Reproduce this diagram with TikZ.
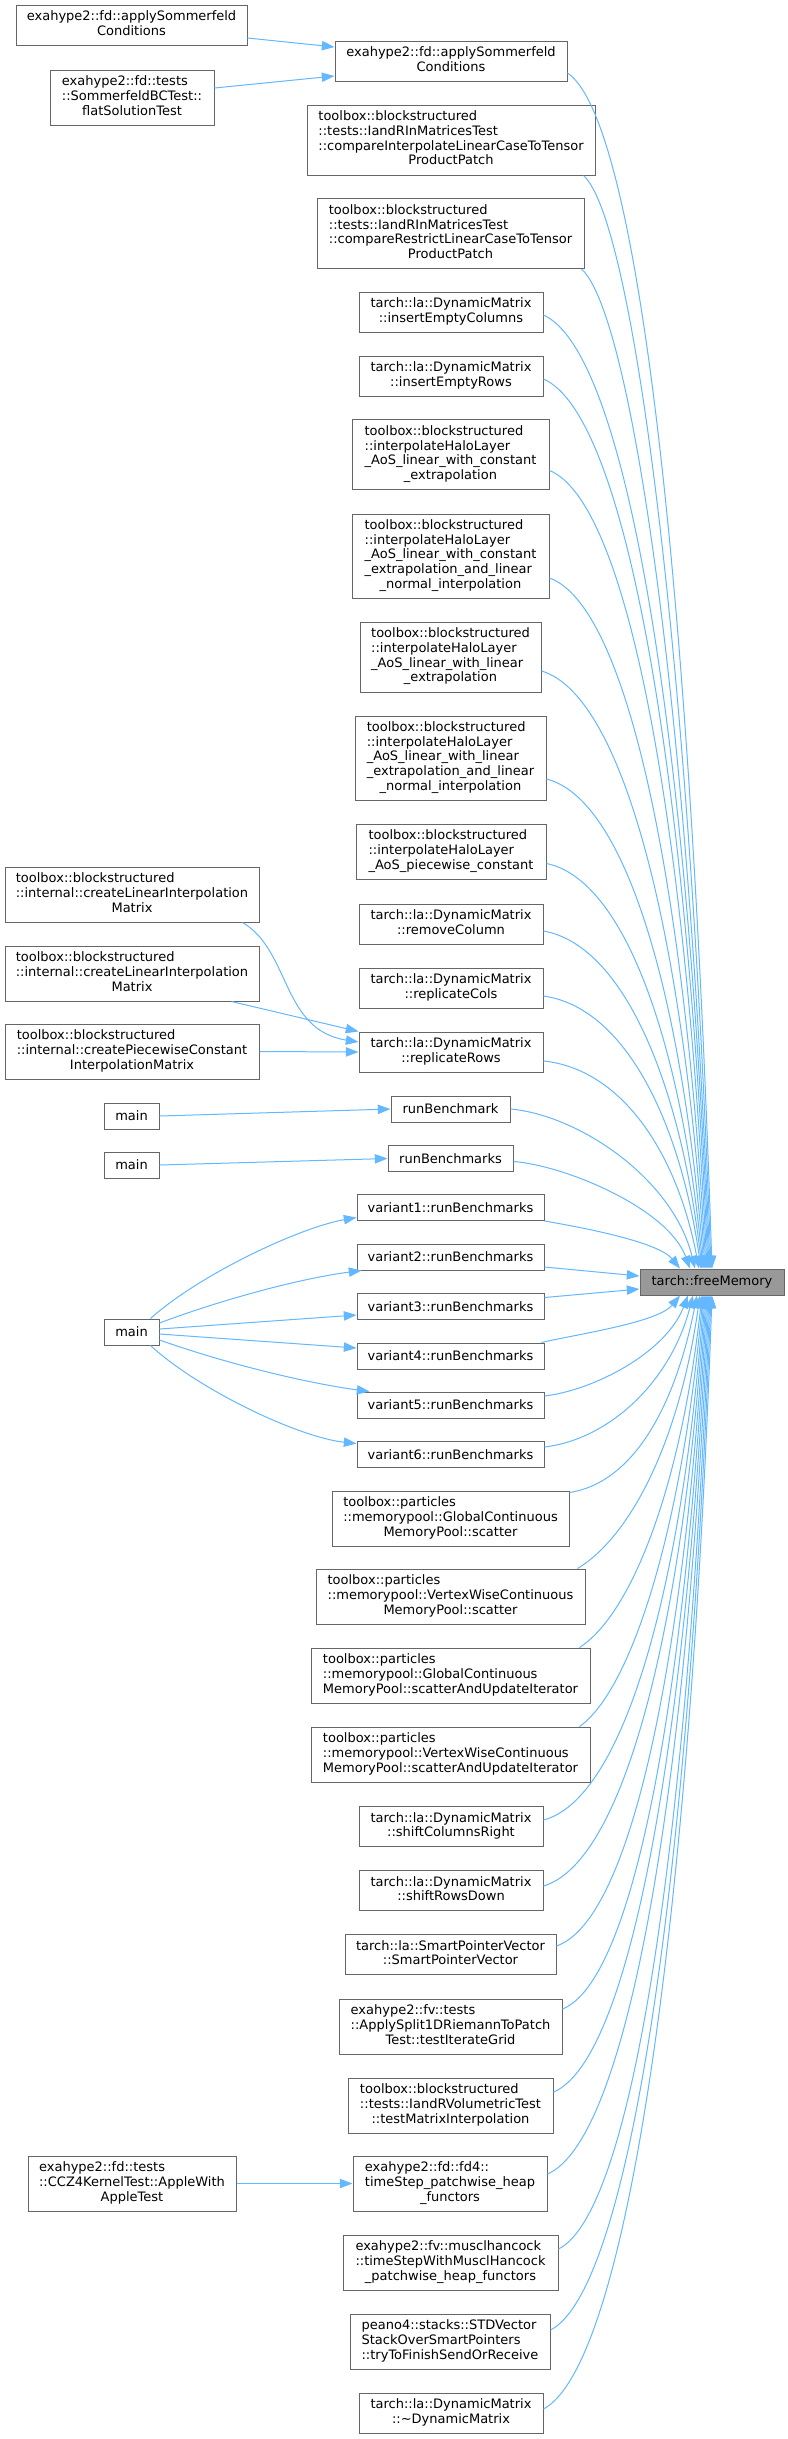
\documentclass[tikz,border=0pt]{standalone}
\usepackage{fontspec}
\setmainfont{DejaVu Sans}
\usetikzlibrary{arrows.meta,calc}
\definecolor{edgeblue}{HTML}{63B8FF}
\definecolor{boxgray}{HTML}{666666}
\definecolor{hlfill}{HTML}{999999}
\newcommand{\ml}[2]{\begin{tabular}{@{}l@{}}#1\\\multicolumn{1}{@{}c@{}}{#2}\end{tabular}}
\begin{document}
\begin{tikzpicture}[x=0.75pt,y=-0.75pt,
  font=\fontsize{9.75pt}{11pt}\selectfont,
  box/.style={draw=boxgray, fill=white, line width=0.75pt, inner sep=0pt, text=black},
  wh/.style 2 args={minimum width={#1*0.75pt}, minimum height={#2*0.75pt}},
  cedge/.style={draw=edgeblue, line width=0.75pt, -{Triangle[length=9.5pt,width=7pt]}}]
\fill[white] (0,0) rectangle (788,2439);
\useasboundingbox (0,0) rectangle (788,2439);

% ---- nodes ----
\node[box,wh={231}{40}] (A1) at (131.5,25) {\ml{exahype2::fd::applySommerfeld}{Conditions}};
\node[box,wh={164}{55}] (A2) at (132,97.5) {\ml{exahype2::fd::tests\\::SommerfeldBCTest::}{flatSolutionTest}};
\node[box,wh={232}{40}] (S) at (451,61) {\ml{exahype2::fd::applySommerfeld}{Conditions}};
\node[box,wh={288}{70}] (B1) at (451,140) {\ml{toolbox::blockstructured\\::tests::IandRInMatricesTest\\::compareInterpolateLinearCaseToTensor}{ProductPatch}};
\node[box,wh={267}{70}] (B2) at (450.5,233.5) {\ml{toolbox::blockstructured\\::tests::IandRInMatricesTest\\::compareRestrictLinearCaseToTensor}{ProductPatch}};
\node[box,wh={184}{40}] (C1) at (451,312) {\ml{tarch::la::DynamicMatrix}{::insertEmptyColumns}};
\node[box,wh={184}{40}] (C2) at (451,376) {\ml{tarch::la::DynamicMatrix}{::insertEmptyRows}};
\node[box,wh={197}{70}] (H1) at (450.5,454.5) {\ml{toolbox::blockstructured\\::interpolateHaloLayer\\\_AoS\_linear\_with\_constant}{\_extrapolation}};
\node[box,wh={197}{84}] (H2) at (450.5,556) {\ml{toolbox::blockstructured\\::interpolateHaloLayer\\\_AoS\_linear\_with\_constant\\\_extrapolation\_and\_linear}{\_normal\_interpolation}};
\node[box,wh={181}{70}] (H3) at (450.5,657) {\ml{toolbox::blockstructured\\::interpolateHaloLayer\\\_AoS\_linear\_with\_linear}{\_extrapolation}};
\node[box,wh={191}{84}] (H4) at (450.5,758) {\ml{toolbox::blockstructured\\::interpolateHaloLayer\\\_AoS\_linear\_with\_linear\\\_extrapolation\_and\_linear}{\_normal\_interpolation}};
\node[box,wh={190}{55}] (H5) at (451,851.5) {\ml{toolbox::blockstructured\\::interpolateHaloLayer}{\_AoS\_piecewise\_constant}};
\node[box,wh={254}{55}] (L1) at (132,894.5) {\ml{toolbox::blockstructured\\::internal::createLinearInterpolation}{Matrix}};
\node[box,wh={254}{55}] (L2) at (132,973.5) {\ml{toolbox::blockstructured\\::internal::createLinearInterpolation}{Matrix}};
\node[box,wh={254}{55}] (L3) at (132,1051.5) {\ml{toolbox::blockstructured\\::internal::createPiecewiseConstant}{InterpolationMatrix}};
\node[box,wh={184}{40}] (D1) at (451,924) {\ml{tarch::la::DynamicMatrix}{::removeColumn}};
\node[box,wh={184}{40}] (D2) at (451,988) {\ml{tarch::la::DynamicMatrix}{::replicateCols}};
\node[box,wh={184}{40}] (D3) at (451,1052) {\ml{tarch::la::DynamicMatrix}{::replicateRows}};
\node[box,wh={55}{26}] (M1) at (131.5,1116) {main};
\node[box,wh={119}{26}] (R1) at (450.5,1109) {runBenchmark};
\node[box,wh={55}{26}] (M2) at (131.5,1165) {main};
\node[box,wh={125}{26}] (R2) at (450.5,1158.5) {runBenchmarks};
\node[box,wh={187}{26}] (V1) at (450.5,1207.5) {variant1::runBenchmarks};
\node[box,wh={187}{26}] (V2) at (450.5,1257) {variant2::runBenchmarks};
\node[box,wh={187}{26}] (V3) at (450.5,1306.5) {variant3::runBenchmarks};
\node[box,wh={187}{26}] (V4) at (450.5,1356) {variant4::runBenchmarks};
\node[box,wh={187}{26}] (V5) at (450.5,1405) {variant5::runBenchmarks};
\node[box,wh={187}{26}] (V6) at (450.5,1454.5) {variant6::runBenchmarks};
\node[box,wh={144}{26},fill=hlfill] (F) at (712,1282) {tarch::freeMemory};
\node[box,wh={55}{26}] (M3) at (131.5,1332) {main};
\node[box,wh={237}{55}] (P1) at (450.5,1518.5) {\ml{toolbox::particles\\::memorypool::GlobalContinuous}{MemoryPool::scatter}};
\node[box,wh={269}{55}] (P2) at (450.5,1596.5) {\ml{toolbox::particles\\::memorypool::VertexWiseContinuous}{MemoryPool::scatter}};
\node[box,wh={279}{55}] (P3) at (450.5,1675.5) {\ml{toolbox::particles\\::memorypool::GlobalContinuous}{MemoryPool::scatterAndUpdateIterator}};
\node[box,wh={279}{55}] (P4) at (450.5,1754.5) {\ml{toolbox::particles\\::memorypool::VertexWiseContinuous}{MemoryPool::scatterAndUpdateIterator}};
\node[box,wh={184}{40}] (E1) at (451,1826.5) {\ml{tarch::la::DynamicMatrix}{::shiftColumnsRight}};
\node[box,wh={184}{40}] (E2) at (451,1890.5) {\ml{tarch::la::DynamicMatrix}{::shiftRowsDown}};
\node[box,wh={211}{40}] (E3) at (450.5,1954.5) {\ml{tarch::la::SmartPointerVector}{::SmartPointerVector}};
\node[box,wh={223}{55}] (E4) at (450.5,2026.5) {\ml{exahype2::fv::tests\\::ApplySplit1DRiemannToPatch}{Test::testIterateGrid}};
\node[box,wh={205}{55}] (E5) at (450.5,2105.5) {\ml{toolbox::blockstructured\\::tests::IandRVolumetricTest}{::testMatrixInterpolation}};
\node[box,wh={194}{55}] (E6) at (450,2183.5) {\ml{exahype2::fd::fd4::\\timeStep\_patchwise\_heap}{\_functors}};
\node[box,wh={208}{55}] (K) at (132,2183.5) {\ml{exahype2::fd::tests\\::CCZ4KernelTest::AppleWith}{AppleTest}};
\node[box,wh={215}{55}] (E7) at (450.5,2262.5) {\ml{exahype2::fv::musclhancock\\::timeStepWithMusclHancock}{\_patchwise\_heap\_functors}};
\node[box,wh={200}{55}] (E8) at (450,2341.5) {\ml{peano4::stacks::STDVector\\StackOverSmartPointers}{::tryToFinishSendOrReceive}};
\node[box,wh={184}{40}] (E9) at (451,2413) {\ml{tarch::la::DynamicMatrix}{::\textasciitilde DynamicMatrix}};

% ---- edges into freeMemory from above ----
\draw[cedge] ($(S.east)+(0,12)$) .. controls +(72,48) and +(-22,-670) .. ($(F.north)+(0,0)$);
\draw[cedge] ($(B1.south east)+(-12,0)$) .. controls +(50,45) and +(-22,-613) .. ($(F.north)+(-1,0)$);
\draw[cedge] ($(B2.south east)+(-3,0)$) .. controls +(50,45) and +(-22,-561) .. ($(F.north)+(-2,0)$);
\draw[cedge] ($(C1.east)+(0,3)$) .. controls +(84,38) and +(-22,-534) .. ($(F.north)+(-3,0)$);
\draw[cedge] ($(C2.east)+(0,3)$) .. controls +(83,36) and +(-22,-498) .. ($(F.north)+(-4,0)$);
\draw[cedge] ($(H1.east)+(0,16)$) .. controls +(79,32) and +(-22,-447) .. ($(F.north)+(-5,0)$);
\draw[cedge] ($(H2.east)+(0,22)$) .. controls +(78,28) and +(-22,-387) .. ($(F.north)+(-6,0)$);
\draw[cedge] ($(H3.east)+(0,14)$) .. controls +(82,24) and +(-22,-335) .. ($(F.north)+(-7,0)$);
\draw[cedge] ($(H4.east)+(0,21)$) .. controls +(79,20) and +(-22,-274) .. ($(F.north)+(-8,0)$);
\draw[cedge] ($(H5.east)+(0,12)$) .. controls +(78,16) and +(-22,-227) .. ($(F.north)+(-9,0)$);
\draw[cedge] ($(D1.east)+(0,7)$) .. controls +(79,14) and +(-22,-189) .. ($(F.north)+(-10,0)$);
\draw[cedge] ($(D2.east)+(0,8)$) .. controls +(79,11) and +(-22,-153) .. ($(F.north)+(-11,0)$);
\draw[cedge] ($(D3.east)+(0,9)$) .. controls +(78,8) and +(-22,-116) .. ($(F.north)+(-13,0)$);
\draw[cedge] (R1.east) .. controls +(68,6) and +(-22,-90) .. ($(F.north)+(-17,0)$);
\draw[cedge] ($(R2.east)+(0,3)$) .. controls +(52,4) and +(-22,-60) .. ($(F.north)+(-22,0)$);
\draw[cedge] (V1.south east) .. controls +(35,6) and +(-22,-27) .. ($(F.north)+(-32,0)$);
% ---- edges into freeMemory from the left ----
\draw[cedge] ($(V2.east)+(0,10)$) -- ($(F.west)+(0,-6)$);
\draw[cedge] ($(V3.east)+(0,-9)$) -- ($(F.west)+(0,7)$);
% ---- edges into freeMemory from below ----
\draw[cedge] ($(V4.north east)+(-3,0)$) .. controls +(34,-8) and +(-22,27) .. ($(F.south)+(-32,0)$);
\draw[cedge] ($(V5.east)+(0,-9)$) .. controls +(50,-6) and +(-22,57) .. ($(F.south)+(-24,0)$);
\draw[cedge] ($(V6.east)+(0,-7.5)$) .. controls +(66,-8) and +(-22,85) .. ($(F.south)+(-19,0)$);
\draw[cedge] ($(P1.north east)+(0,2)$) .. controls +(64,-10) and +(-22,111) .. ($(F.south)+(-15,0)$);
\draw[cedge] ($(P2.north east)+(-8,0)$) .. controls +(50,-30) and +(-22,153) .. ($(F.south)+(-12,0)$);
\draw[cedge] ($(P3.north east)+(-11,0)$) .. controls +(50,-32) and +(-22,198) .. ($(F.south)+(-10,0)$);
\draw[cedge] ($(P4.north east)+(-11,0)$) .. controls +(50,-35) and +(-22,242) .. ($(F.south)+(-9,0)$);
\draw[cedge] ($(E1.east)+(0,-6.5)$) .. controls +(80,-21) and +(-22,294) .. ($(F.south)+(-8,0)$);
\draw[cedge] ($(E2.east)+(0,-4.5)$) .. controls +(81,-24) and +(-22,331) .. ($(F.south)+(-7,0)$);
\draw[cedge] ($(E3.east)+(0,-8.5)$) .. controls +(75,-26) and +(-22,365) .. ($(F.south)+(-6,0)$);
\draw[cedge] ($(E4.east)+(0,-17.5)$) .. controls +(72,-29) and +(-22,400) .. ($(F.south)+(-5,0)$);
\draw[cedge] ($(E5.east)+(0,-13.5)$) .. controls +(77,-32) and +(-22,446) .. ($(F.south)+(-4,0)$);
\draw[cedge] ($(E6.east)+(0,-9.5)$) .. controls +(81,-35) and +(-22,492) .. ($(F.south)+(-3,0)$);
\draw[cedge] ($(E7.east)+(0,-13.5)$) .. controls +(76,-38) and +(-22,534) .. ($(F.south)+(-2,0)$);
\draw[cedge] ($(E8.east)+(0,-11.5)$) .. controls +(80,-41) and +(-22,580) .. ($(F.south)+(-1,0)$);
\draw[cedge] ($(E9.east)+(0,-4)$) .. controls +(84,-45) and +(-22,624) .. ($(F.south)+(0,0)$);

% ---- other edges ----
\draw[cedge] ($(A1.east)+(0,13)$) -- ($(S.west)+(0,-14)$);
\draw[cedge] ($(A2.east)+(0,-9.5)$) -- ($(S.west)+(0,15)$);
\draw[cedge] ($(L1.south east)+(-17,0)$) .. controls +(48,28) and +(-77,-12) .. ($(D3.west)+(0,-10)$);
\draw[cedge] ($(L2.south east)+(-28,0)$) -- (D3.north west);
\draw[cedge] (L3.east) -- (D3.west);
\draw[cedge] (M1.east) -- (R1.west);
\draw[cedge] (M2.east) -- (R2.west);
\draw[cedge] ($(M3.north east)+(-9,0)$) .. controls +(49,-44) and +(-57,10) .. ($(V1.west)+(0,10)$);
\draw[cedge] ($(M3.east)+(0,-9)$) .. controls +(61,-23) and +(-62,8) .. ($(V2.south west)+(5,0)$);
\draw[cedge] ($(M3.east)+(0,-3)$) -- ($(V3.west)+(0,8.5)$);
\draw[cedge] ($(M3.east)+(0,2)$) -- ($(V4.west)+(0,-8)$);
\draw[cedge] ($(M3.east)+(0,8)$) .. controls +(71,25) and +(-60,-8) .. ($(V5.north west)+(13,0)$);
\draw[cedge] ($(M3.south east)+(-9,0)$) .. controls +(49,45) and +(-57,-6) .. ($(V6.west)+(0,-11)$);
\draw[cedge] (K.east) -- (E6.west);
\end{tikzpicture}
\end{document}
